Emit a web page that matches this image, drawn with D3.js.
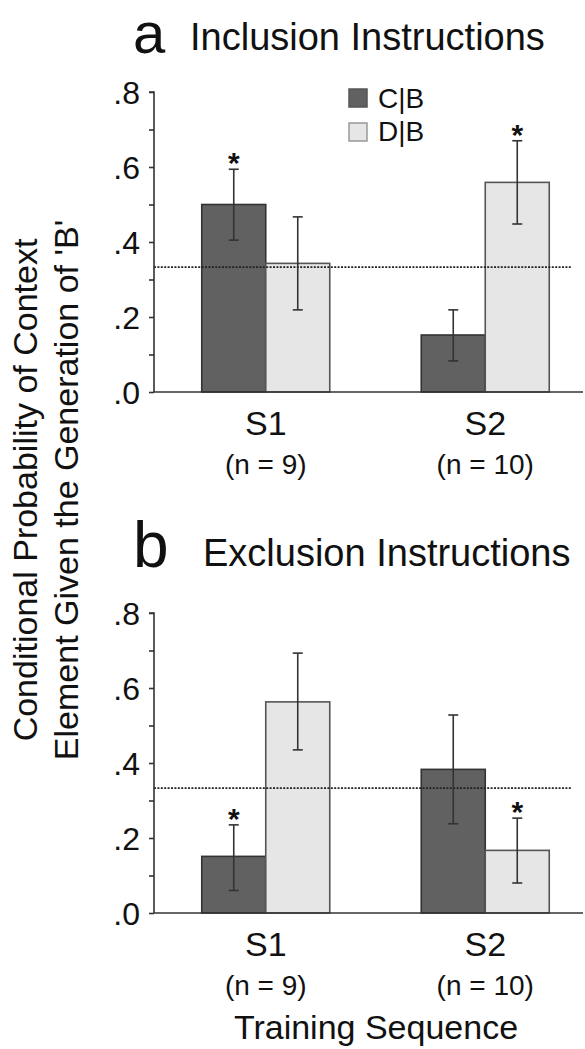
<!DOCTYPE html>
<html><head><meta charset="utf-8">
<script src="https://cdn.jsdelivr.net/npm/d3@7"></script>
<style>body{margin:0;background:#fff}svg{display:block}text{font-family:"Liberation Sans",Arial,Helvetica,sans-serif;fill:#111}</style>
</head><body>
<svg id="c" width="585" height="1049"></svg>
<script>
const groups = ["S1", "S2"];
const groupN = ["(n = 9)", "(n = 10)"];
const series = ["C|B", "D|B"];
const seriesFill = ["#616161", "#e6e6e6"];
const seriesStroke = ["#333333", "#555555"];
const yTicks = [0, 0.1, 0.2, 0.3, 0.4, 0.5, 0.6, 0.7, 0.8];
const yTickLabels = {0: ".0", 0.2: ".2", 0.4: ".4", 0.6: ".6", 0.8: ".8"};
const chance = 0.333;

// Panel a: Inclusion
const inclMean = [[0.50, 0.343], [0.152, 0.559]];
const inclLo = [[0.405, 0.219], [0.083, 0.448]];
const inclHi = [[0.594, 0.467], [0.219, 0.670]];
const inclStar = [[true, false], [false, true]];
// Panel b: Exclusion
const exclMean = [[0.151, 0.563], [0.383, 0.167]];
const exclLo = [[0.060, 0.435], [0.238, 0.080]];
const exclHi = [[0.235, 0.693], [0.528, 0.253]];
const exclStar = [[true, false], [false, true]];

const svg = d3.select("#c");
const axisX = 154;
const x0 = d3.scaleBand().domain(groups).range([156, 595]).padding(0);
const barW = 64;
const x1 = d3.scaleBand().domain(series).range([0, 2 * barW]).padding(0);

function panel(p) {
  const {letter, title, top, zero, mean, lo, hi, star, showLegend, letterSize, letterY, titleX, titleY} = p;
  const y = d3.scaleLinear().domain([0, 0.8]).range([zero, top]);
  const g = svg.append("g");
  // title
  g.append("text").attr("x", 133).attr("y", letterY).attr("font-size", letterSize).text(letter);
  g.append("text").attr("x", titleX).attr("y", titleY).attr("font-size", 38).text(title);

  // bars
  groups.forEach((grp, gi) => {
    const cx = x0(grp) + x0.bandwidth() / 2 - barW;
    series.forEach((s, si) => {
      const bx = cx + x1(s);
      g.append("rect").attr("x", bx).attr("y", y(mean[gi][si]))
        .attr("width", x1.bandwidth()).attr("height", y(0) - y(mean[gi][si]))
        .attr("fill", seriesFill[si]).attr("stroke", seriesStroke[si]).attr("stroke-width", 1.6);
    });
  });
  // dotted chance line
  g.append("line").attr("x1", axisX).attr("x2", 572)
    .attr("y1", y(chance)).attr("y2", y(chance))
    .attr("stroke", "#222").attr("stroke-width", 1.6).attr("stroke-dasharray", "2,1.4");

  // error bars + stars
  groups.forEach((grp, gi) => {
    const cx = x0(grp) + x0.bandwidth() / 2 - barW;
    series.forEach((s, si) => {
      const mx = cx + x1(s) + x1.bandwidth() / 2;
      const eg = g.append("g").attr("stroke", "#333").attr("stroke-width", 1.6);
      eg.append("line").attr("x1", mx).attr("x2", mx).attr("y1", y(lo[gi][si])).attr("y2", y(hi[gi][si]));
      [lo[gi][si], hi[gi][si]].forEach(v => {
        eg.append("line").attr("x1", mx - 5).attr("x2", mx + 5).attr("y1", y(v)).attr("y2", y(v));
      });
      if (star[gi][si]) {
        g.append("text").attr("x", mx).attr("y", y(hi[gi][si]) + 4).attr("text-anchor", "middle")
          .attr("font-size", 30).attr("font-weight", "bold").text("*");
      }
    });
  });

  // y axis
  const ax = d3.axisLeft(y).tickValues(yTicks).tickSize(5)
    .tickFormat(d => yTickLabels[Math.round(d * 10) / 10] !== undefined ? yTickLabels[Math.round(d * 10) / 10] : "");
  const ag = g.append("g").attr("transform", `translate(${axisX},0)`).call(ax);
  ag.select(".domain").attr("stroke", "#333").attr("stroke-width", 1.6).attr("d", `M-5,${top}H0V${zero}`);
  ag.selectAll(".tick line").attr("stroke", "#333").attr("stroke-width", 1.6);
  ag.selectAll(".tick text").attr("font-size", 32).attr("font-family", '"Liberation Sans",Arial,sans-serif')
    .attr("fill", "#111").attr("x", -14).attr("dy", "0.36em");

  // x baseline
  g.append("line").attr("x1", axisX).attr("x2", 583).attr("y1", zero).attr("y2", zero)
    .attr("stroke", "#333").attr("stroke-width", 1.6);

  // x labels
  groups.forEach((grp, gi) => {
    const cx = x0(grp) + x0.bandwidth() / 2;
    g.append("text").attr("x", cx).attr("y", zero + 43).attr("text-anchor", "middle").attr("font-size", 34).text(grp);
    g.append("text").attr("x", cx).attr("y", zero + 82).attr("text-anchor", "middle").attr("font-size", 28).text(groupN[gi]);
  });

  if (showLegend) {
    series.forEach((s, si) => {
      g.append("rect").attr("x", 349).attr("y", 89 + si * 34).attr("width", 18).attr("height", 18)
        .attr("fill", seriesFill[si]).attr("stroke", si === 0 ? "#555" : "#999").attr("stroke-width", 1.5);
      g.append("text").attr("x", 378).attr("y", 108 + si * 33).attr("font-size", 28).text(s);
    });
  }
}

panel({letter: "a", title: "Inclusion Instructions", top: 92, zero: 392, mean: inclMean, lo: inclLo, hi: inclHi,
  star: inclStar, showLegend: true, letterSize: 58, letterY: 53, titleX: 190, titleY: 50});
panel({letter: "b", title: "Exclusion Instructions", top: 613, zero: 913, mean: exclMean, lo: exclLo, hi: exclHi,
  star: exclStar, showLegend: false, letterSize: 64, letterY: 567, titleX: 203, titleY: 566});

// y-axis label
const yl = svg.append("g").attr("transform", "translate(0,490) rotate(-90)");
yl.append("text").attr("x", 0).attr("y", 37).attr("text-anchor", "middle").attr("font-size", 34).text("Conditional Probability of Context");
yl.append("text").attr("x", 0).attr("y", 78).attr("text-anchor", "middle").attr("font-size", 34).text("Element Given the Generation of 'B'");

// x-axis title
svg.append("text").attr("x", 376).attr("y", 1039).attr("text-anchor", "middle").attr("font-size", 34).text("Training Sequence");
</script>
</body></html>
